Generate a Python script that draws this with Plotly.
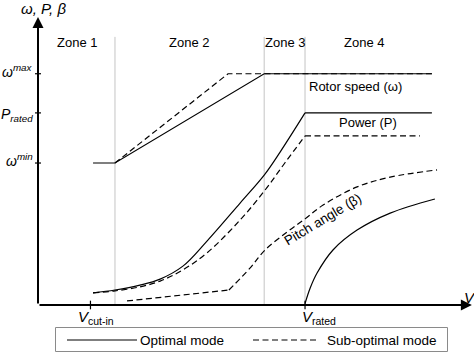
import plotly.graph_objects as go

# ---------------- data (wind speed v on x, output level on y) ----------------
v_cut_in = 1.22
v_rated = 6.21
zone_bounds = [1.79, 5.26, 6.21]
zone_names = ["Zone 1", "Zone 2", "Zone 3", "Zone 4"]
zone_label_v = [0.91, 3.51, 5.74, 7.58]

w_min = 4.93
p_rated = 6.67
w_max = 8.03

rotor_opt_v = [1.28, 1.79, 5.26, 9.16]
rotor_opt = [4.93, 4.93, 8.03, 8.03]
rotor_sub_v = [1.79, 4.42, 9.16]
rotor_sub = [4.93, 8.03, 8.03]

power_opt_v = [1.28, 1.79, 2.37, 2.84, 3.37, 3.93, 4.70, 5.26, 5.63, 6.21, 9.16]
power_opt = [0.42, 0.52, 0.69, 0.90, 1.35, 2.22, 3.54, 4.51, 5.31, 6.67, 6.67]
power_sub_v = [1.28, 1.79, 2.37, 2.84, 3.37, 3.93, 4.70, 5.28, 5.74, 6.21, 8.88]
power_sub = [0.42, 0.49, 0.63, 0.83, 1.22, 1.81, 2.95, 3.99, 4.93, 5.87, 5.87]

pitch_sub_v = [2.07, 4.44, 4.93, 5.28, 5.79, 6.21, 6.63, 7.42, 8.19, 9.28]
pitch_sub = [0.14, 0.52, 1.28, 1.91, 2.53, 2.99, 3.47, 4.10, 4.44, 4.69]
pitch_opt_v = [6.21, 6.33, 6.49, 6.86, 7.42, 8.19, 9.23]
pitch_opt = [0.05, 0.59, 1.11, 1.91, 2.60, 3.19, 3.68]

# ---------------- style ----------------
FONT = "Liberation Sans, Arial, sans-serif"
BLK = "black"
LW = 1.2
DASH = "6px,3.5px"
W, H = 474, 355
X_END = 10.09        # x-axis arrow tip
Y_END = 10.0         # y-axis arrow tip


def line(x, y, dash=None, shape="linear"):
    return go.Scatter(x=x, y=y, mode="lines", hoverinfo="skip", showlegend=False,
                      line=dict(color=BLK, width=LW, dash=dash, shape=shape))


fig = go.Figure()

# rotor speed
fig.add_trace(line(rotor_opt_v, rotor_opt))
fig.add_trace(line(rotor_sub_v, rotor_sub, DASH))
# power
fig.add_trace(line(power_opt_v[:10], power_opt[:10], shape="spline"))
fig.add_trace(line(power_opt_v[9:], power_opt[9:]))
fig.add_trace(line(power_sub_v[:10], power_sub[:10], DASH, shape="spline"))
fig.add_trace(line(power_sub_v[9:], power_sub[9:], DASH))
# pitch angle
fig.add_trace(line(pitch_sub_v[:2], pitch_sub[:2], DASH))
fig.add_trace(line(pitch_sub_v[1:], pitch_sub[1:], DASH, shape="spline"))
fig.add_trace(line(pitch_opt_v, pitch_opt, shape="spline"))

shapes = []
# zone boundaries
for zb in zone_bounds:
    shapes.append(dict(type="line", xref="x", yref="y", x0=zb, x1=zb, y0=0, y1=9.31,
                       line=dict(color="#c4c4c4", width=1), layer="below"))
# y ticks
for yv in [w_min, p_rated, w_max]:
    shapes.append(dict(type="line", xref="x", yref="y", x0=-0.07, x1=0.07, y0=yv, y1=yv,
                       line=dict(color=BLK, width=1.2)))
# x ticks
for xv in [v_cut_in, v_rated]:
    shapes.append(dict(type="line", xref="x", yref="y", x0=xv, x1=xv, y0=-0.15, y1=0.15,
                       line=dict(color=BLK, width=1.2)))


# legend (paper coords; margins are zero so paper == page)
def px(x):
    return x / W


def py(y):
    return 1 - y / H


shapes.append(dict(type="rect", xref="paper", yref="paper", x0=px(55.5), x1=px(447.5),
                   y0=py(351.5), y1=py(327.5), line=dict(color="#8a8a8a", width=1)))
shapes.append(dict(type="line", xref="paper", yref="paper", x0=px(67), x1=px(137),
                   y0=py(340), y1=py(340), line=dict(color=BLK, width=LW)))
shapes.append(dict(type="line", xref="paper", yref="paper", x0=px(253), x1=px(318),
                   y0=py(340), y1=py(340), line=dict(color=BLK, width=LW, dash=DASH)))

ann = []
# axes with arrows
ann.append(dict(x=X_END, y=0, ax=0, ay=0, xref="x", yref="y", axref="x", ayref="y",
                showarrow=True, arrowhead=2, arrowsize=1.1, arrowwidth=2, arrowcolor=BLK, text=""))
ann.append(dict(x=0, y=Y_END, ax=0, ay=0, xref="x", yref="y", axref="x", ayref="y",
                showarrow=True, arrowhead=2, arrowsize=1.1, arrowwidth=2, arrowcolor=BLK, text=""))


def txt(x, y, s, size=13, xanchor="center", yanchor="middle", angle=0, xref="x", yref="y",
        xshift=0, yshift=0):
    ann.append(dict(x=x, y=y, xref=xref, yref=yref, text=s, showarrow=False,
                    xanchor=xanchor, yanchor=yanchor, textangle=angle,
                    xshift=xshift, yshift=yshift,
                    font=dict(family=FONT, size=size, color=BLK)))


for name, zv in zip(zone_names, zone_label_v):
    txt(zv, 9.11, name)

txt(6.25, 7.57, "Rotor speed (ω)", xanchor="left")
txt(7.68, 6.32, "Power (P)")
txt(6.62, 2.98, "Pitch angle (β)", size=13.5, angle=-31)

# y-axis labels
txt(-0.07, w_max, "<i>ω</i><sup><i>max</i></sup>", size=14, xanchor="right", yshift=3)
txt(-0.07, p_rated, "<i>P</i><sub><i>rated</i></sub>", size=14, xanchor="right", yshift=-2)
txt(-0.07, w_min, "<i>ω</i><sup><i>min</i></sup>", size=14, xanchor="right", yshift=3)
txt(-0.44, 10.28, "<i>ω, P, β</i>", size=15, xanchor="left")
txt(10.05, 0.25, "<i>V</i>", size=15, xanchor="center")

# x-axis labels
txt(v_cut_in, -0.45, "<i>V</i><sub>cut-in</sub>", size=15, xanchor="left", xshift=-14)
txt(v_rated, -0.45, "<i>V</i><sub>rated</sub>", size=15, xanchor="left", xshift=-5)

# legend text
txt(px(138), py(340), "Optimal mode", size=13.5, xanchor="left", xref="paper", yref="paper")
txt(px(325), py(340), "Sub-optimal mode", size=13.5, xanchor="left", xref="paper", yref="paper")

fig.update_layout(
    width=W, height=H,
    margin=dict(l=0, r=0, t=0, b=0),
    paper_bgcolor="white", plot_bgcolor="white",
    xaxis=dict(range=[-38 / 43, 436 / 43], visible=False, fixedrange=True),
    yaxis=dict(range=[-50 / 28.8, 305 / 28.8], visible=False, fixedrange=True),
    shapes=shapes, annotations=ann, showlegend=False,
    font=dict(family=FONT, color=BLK),
    hovermode=False,
)

fig.write_html("out.html",
               config={"displayModeBar": False, "staticPlot": True},
               post_script="document.body.style.margin='0';document.body.style.overflow='hidden';")
